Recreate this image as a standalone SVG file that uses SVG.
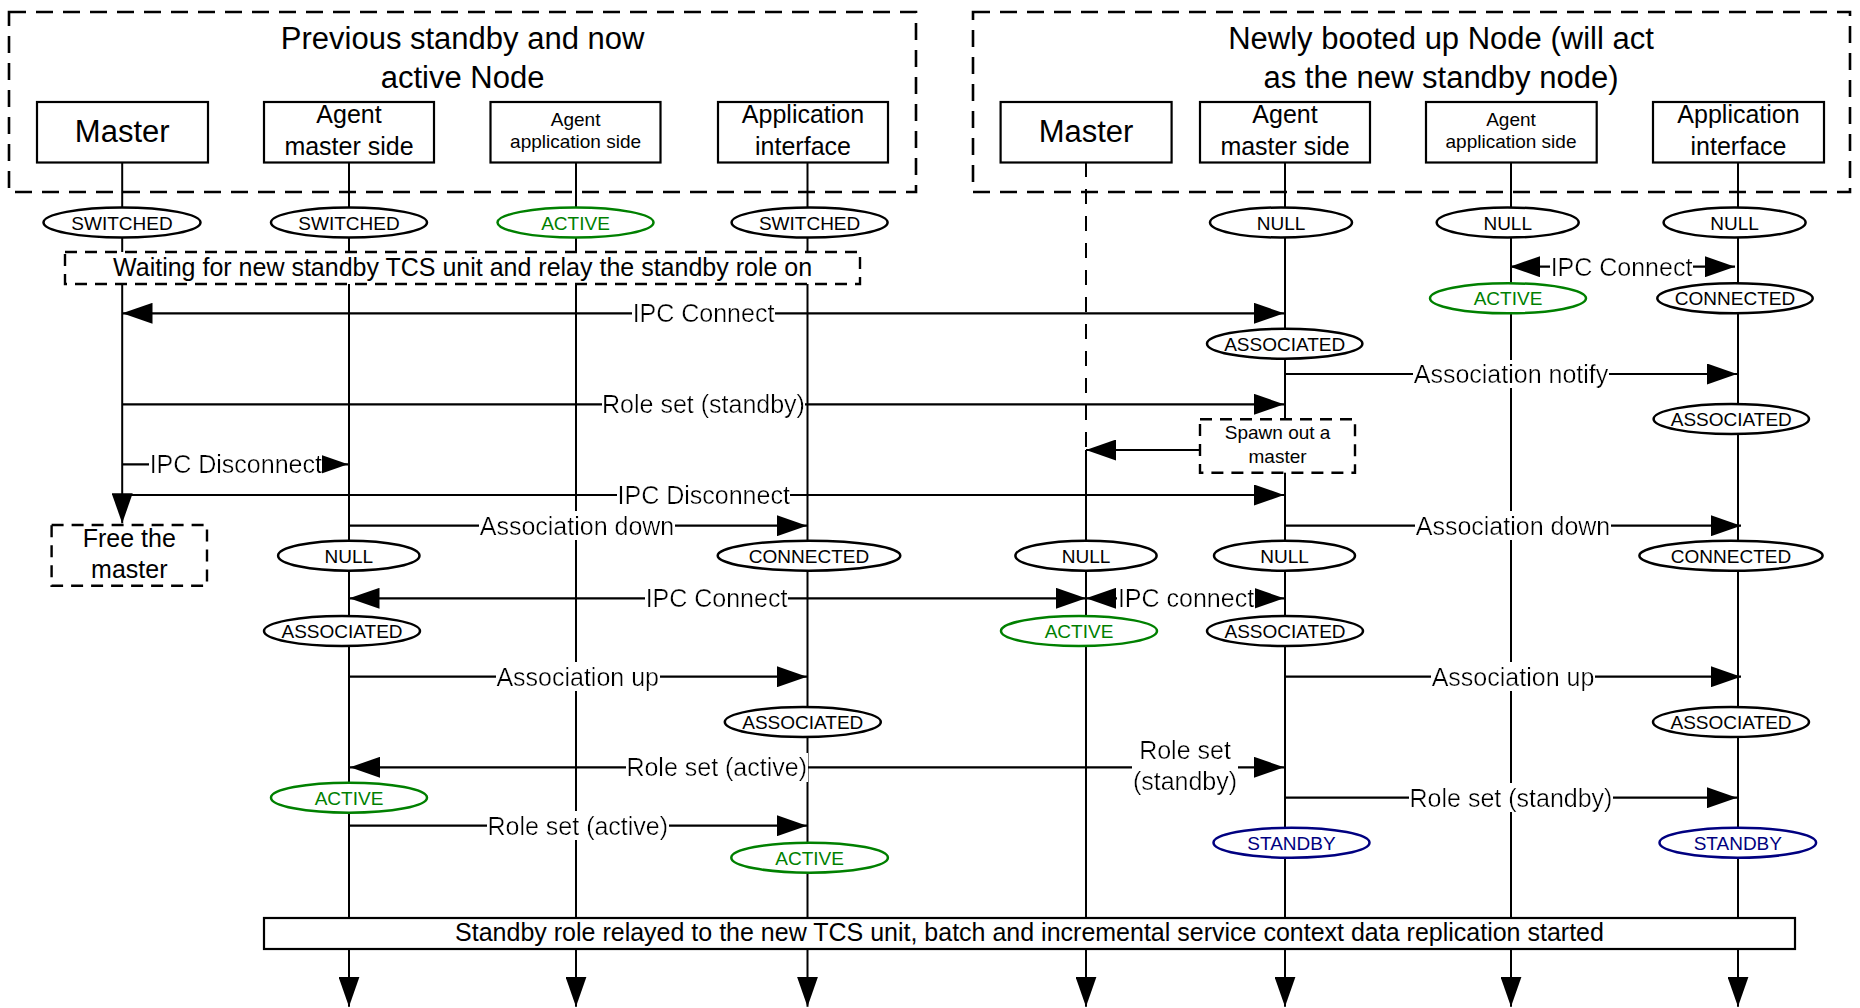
<svg xmlns="http://www.w3.org/2000/svg" width="1860" height="1008" viewBox="0 0 1860 1008">
  <style>
    text { font-family: "Liberation Sans", Arial, sans-serif; fill: #000; }
    .title { font-size: 31px; text-anchor: middle; }
    .hbox { fill: #fff; stroke: #000; stroke-width: 2.2; }
    .h31 { font-size: 31px; text-anchor: middle; }
    .h25 { font-size: 25px; text-anchor: middle; }
    .h19 { font-size: 19px; text-anchor: middle; }
    .group { fill: none; stroke: #000; stroke-width: 2.6; stroke-dasharray: 17 10; }
    .note { fill: #fff; stroke: #000; stroke-width: 2.4; stroke-dasharray: 12 8; }
    .life { stroke: #000; stroke-width: 2; fill: none; }
    .lifedash { stroke: #000; stroke-width: 2; fill: none; stroke-dasharray: 15 12; }
    .msg { stroke: #000; stroke-width: 2.2; fill: none; }
    .lbl { font-size: 25px; text-anchor: middle; }
    .st { fill: #fff; stroke: #000; stroke-width: 2.5; }
    .st.green { stroke: #008000; }
    .st.blue { stroke: #000080; }
    .stt { font-size: 19px; text-anchor: middle; }
    .stt.green { fill: #008000; }
    .stt.blue { fill: #000080; }
    .banner { fill: #fff; stroke: #000; stroke-width: 2.2; }
  </style>
  <defs>
    <marker id="arr" viewBox="0 0 30 21" refX="30" refY="10.5" markerWidth="30" markerHeight="21" markerUnits="userSpaceOnUse" orient="auto-start-reverse">
      <path d="M0,0 L30,10.5 L0,21 Z" fill="#000"/>
    </marker>
    <!-- white box behind message labels -->
    <filter id="bg" x="0" y="0" width="1" height="1">
      <feFlood flood-color="#fff"/>
      <feComposite in="SourceGraphic" operator="over"/>
    </filter>
  </defs>

  <rect width="1860" height="1008" fill="#fff"/>

  <!-- node groups (dashed frames) -->
  <g id="group-active-node">
    <rect class="group" x="9" y="12" width="907" height="180"/>
    <text class="title" x="462.6" y="49.3">Previous standby and now</text>
    <text class="title" x="462.6" y="88.3">active Node</text>
  </g>
  <g id="group-standby-node">
    <rect class="group" x="973" y="12" width="877" height="180"/>
    <text class="title" x="1441" y="49.3">Newly booted up Node (will act</text>
    <text class="title" x="1441" y="88.3">as the new standby node)</text>
  </g>

  <!-- participants with lifelines -->
  <g id="master-a">
    <line class="life" x1="122.2" y1="162" x2="122.2" y2="523.3" marker-end="url(#arr)"/>
    <rect class="hbox" x="37" y="102" width="171" height="60.5"/>
    <text class="h31" x="122.2" y="141.7">Master</text>
  </g>
  <g id="agent-master-a">
    <line class="life" x1="349" y1="162" x2="349" y2="1006.7" marker-end="url(#arr)"/>
    <rect class="hbox" x="264" y="102" width="170" height="60.5"/>
    <text class="h25" x="349" y="122.7">Agent</text>
    <text class="h25" x="349" y="155">master side</text>
  </g>
  <g id="agent-app-a">
    <line class="life" x1="576" y1="162" x2="576" y2="1006.7" marker-end="url(#arr)"/>
    <rect class="hbox" x="490.5" y="102" width="170" height="60.5"/>
    <text class="h19" x="575.6" y="126">Agent</text>
    <text class="h19" x="575.6" y="148.3">application side</text>
  </g>
  <g id="app-if-a">
    <line class="life" x1="807.5" y1="162" x2="807.5" y2="1006.7" marker-end="url(#arr)"/>
    <rect class="hbox" x="718" y="102" width="170" height="60.5"/>
    <text class="h25" x="803" y="122.7">Application</text>
    <text class="h25" x="803" y="155">interface</text>
  </g>
  <g id="master-b">
    <line class="lifedash" x1="1086" y1="162" x2="1086" y2="450"/>
    <line class="life" x1="1086" y1="450" x2="1086" y2="1006.7" marker-end="url(#arr)"/>
    <rect class="hbox" x="1000.6" y="102" width="171" height="60.5"/>
    <text class="h31" x="1086" y="141.7">Master</text>
  </g>
  <g id="agent-master-b">
    <line class="life" x1="1285" y1="162" x2="1285" y2="1006.7" marker-end="url(#arr)"/>
    <rect class="hbox" x="1200" y="102" width="170" height="60.5"/>
    <text class="h25" x="1285" y="122.7">Agent</text>
    <text class="h25" x="1285" y="155">master side</text>
  </g>
  <g id="agent-app-b">
    <line class="life" x1="1511" y1="162" x2="1511" y2="1006.7" marker-end="url(#arr)"/>
    <rect class="hbox" x="1426" y="102" width="170.7" height="60.5"/>
    <text class="h19" x="1511" y="126">Agent</text>
    <text class="h19" x="1511" y="148.3">application side</text>
  </g>
  <g id="app-if-b">
    <line class="life" x1="1738" y1="162" x2="1738" y2="1006.7" marker-end="url(#arr)"/>
    <rect class="hbox" x="1653" y="102" width="171" height="60.5"/>
    <text class="h25" x="1738.5" y="122.7">Application</text>
    <text class="h25" x="1738.5" y="155">interface</text>
  </g>

  <!-- messages -->
  <g id="connectors">
    <line class="msg" x1="1510" y1="266.7" x2="1735" y2="266.7" marker-start="url(#arr)" marker-end="url(#arr)"/>
    <text class="lbl" filter="url(#bg)" x="1621.5" y="275.7">IPC Connect</text>

    <line class="msg" x1="122.5" y1="313.3" x2="1284" y2="313.3" marker-start="url(#arr)" marker-end="url(#arr)"/>
    <text class="lbl" filter="url(#bg)" x="703.5" y="322.3">IPC Connect</text>

    <line class="msg" x1="1285" y1="374" x2="1737" y2="374" marker-end="url(#arr)"/>
    <text class="lbl" filter="url(#bg)" x="1511" y="383">Association notify</text>

    <line class="msg" x1="122.2" y1="404.3" x2="1284" y2="404.3" marker-end="url(#arr)"/>
    <text class="lbl" filter="url(#bg)" x="703.5" y="413.3">Role set (standby)</text>

    <line class="msg" x1="1200" y1="450" x2="1086" y2="450" marker-end="url(#arr)"/>

    <line class="msg" x1="122.2" y1="464.3" x2="348" y2="464.3" marker-end="url(#arr)"/>
    <text class="lbl" filter="url(#bg)" x="235.8" y="473.3">IPC Disconnect</text>

    <line class="msg" x1="122.2" y1="495" x2="1284" y2="495" marker-end="url(#arr)"/>
    <text class="lbl" filter="url(#bg)" x="703.7" y="504">IPC Disconnect</text>

    <line class="msg" x1="349" y1="525.7" x2="807" y2="525.7" marker-end="url(#arr)"/>
    <text class="lbl" filter="url(#bg)" x="577" y="534.7">Association down</text>

    <line class="msg" x1="1285" y1="525.7" x2="1741" y2="525.7" marker-end="url(#arr)"/>
    <text class="lbl" filter="url(#bg)" x="1513" y="534.7">Association down</text>

    <line class="msg" x1="349.5" y1="598.3" x2="1086" y2="598.3" marker-start="url(#arr)" marker-end="url(#arr)"/>
    <text class="lbl" filter="url(#bg)" x="716.5" y="607.3">IPC Connect</text>

    <line class="msg" x1="1086" y1="598.3" x2="1284" y2="598.3" marker-start="url(#arr)" marker-end="url(#arr)"/>
    <text class="lbl" filter="url(#bg)" x="1186" y="607.3">IPC connect</text>

    <line class="msg" x1="349" y1="676.7" x2="807" y2="676.7" marker-end="url(#arr)"/>
    <text class="lbl" filter="url(#bg)" x="577.7" y="685.7">Association up</text>

    <line class="msg" x1="1285" y1="676.7" x2="1741" y2="676.7" marker-end="url(#arr)"/>
    <text class="lbl" filter="url(#bg)" x="1513" y="685.7">Association up</text>

    <line class="msg" x1="1086" y1="767.3" x2="350" y2="767.3" marker-end="url(#arr)"/>
    <text class="lbl" filter="url(#bg)" x="716.7" y="776.3">Role set (active)</text>

    <line class="msg" x1="1086" y1="767.3" x2="1284" y2="767.3" marker-end="url(#arr)"/>
    <text class="lbl" filter="url(#bg)" x="1185" y="759.3">Role set<tspan x="1185" y="790">(standby)</tspan></text>

    <line class="msg" x1="1285" y1="797.7" x2="1737" y2="797.7" marker-end="url(#arr)"/>
    <text class="lbl" filter="url(#bg)" x="1511" y="806.7">Role set (standby)</text>

    <line class="msg" x1="349" y1="825.7" x2="807" y2="825.7" marker-end="url(#arr)"/>
    <text class="lbl" filter="url(#bg)" x="577.8" y="834.7">Role set (active)</text>
  </g>

  <!-- notes -->
  <g id="note-waiting">
    <rect class="note" x="65" y="252" width="795" height="32"/>
    <text class="lbl" x="462.6" y="276">Waiting for new standby TCS unit and relay the standby role on</text>
  </g>
  <g id="note-spawn">
    <rect class="note" x="1200" y="419.3" width="155" height="53.4"/>
    <text class="h19" x="1277.6" y="439.3">Spawn out a</text>
    <text class="h19" x="1277.6" y="463.3">master</text>
  </g>
  <g id="note-free">
    <rect class="note" x="51.6" y="525" width="155.4" height="60.7"/>
    <text class="lbl" x="129.3" y="546.7">Free the</text>
    <text class="lbl" x="129.3" y="577.7">master</text>
  </g>
  <g id="note-relayed">
    <rect class="banner" x="264" y="918" width="1531" height="31"/>
    <text class="lbl" x="1029.5" y="940.7">Standby role relayed to the new TCS unit, batch and incremental service context data replication started</text>
  </g>

  <!-- state markers -->
  <g id="st-a-master-switched"><ellipse class="st" cx="122" cy="222.5" rx="78.5" ry="15"/><text class="stt" x="122" y="229.5">SWITCHED</text></g>
  <g id="st-a-agentm-switched"><ellipse class="st" cx="349" cy="222.5" rx="78" ry="15"/><text class="stt" x="349" y="229.5">SWITCHED</text></g>
  <g id="st-a-agenta-active"><ellipse class="st green" cx="575.5" cy="222.5" rx="78" ry="15"/><text class="stt green" x="575.5" y="229.5">ACTIVE</text></g>
  <g id="st-a-app-switched"><ellipse class="st" cx="809.6" cy="222.5" rx="78" ry="15"/><text class="stt" x="809.6" y="229.5">SWITCHED</text></g>
  <g id="st-b-agentm-null"><ellipse class="st" cx="1281" cy="222.5" rx="71" ry="15"/><text class="stt" x="1281" y="229.5">NULL</text></g>
  <g id="st-b-agenta-null"><ellipse class="st" cx="1507.7" cy="222.5" rx="71" ry="15"/><text class="stt" x="1507.7" y="229.5">NULL</text></g>
  <g id="st-b-app-null"><ellipse class="st" cx="1734.6" cy="222.5" rx="71" ry="15"/><text class="stt" x="1734.6" y="229.5">NULL</text></g>

  <g id="st-b-agenta-active"><ellipse class="st green" cx="1508" cy="298.3" rx="78" ry="15"/><text class="stt green" x="1508" y="305.3">ACTIVE</text></g>
  <g id="st-b-app-connected"><ellipse class="st" cx="1735" cy="298.3" rx="77.7" ry="15"/><text class="stt" x="1735" y="305.3">CONNECTED</text></g>

  <g id="st-b-agentm-associated"><ellipse class="st" cx="1284.7" cy="343.7" rx="77.7" ry="15"/><text class="stt" x="1284.7" y="350.7">ASSOCIATED</text></g>
  <g id="st-b-app-associated-1"><ellipse class="st" cx="1731.3" cy="419" rx="77.7" ry="15"/><text class="stt" x="1731.3" y="426">ASSOCIATED</text></g>

  <g id="st-a-agentm-null"><ellipse class="st" cx="348.8" cy="555.7" rx="70.7" ry="15"/><text class="stt" x="348.8" y="562.7">NULL</text></g>
  <g id="st-a-app-connected"><ellipse class="st" cx="809" cy="555.7" rx="91.3" ry="15"/><text class="stt" x="809" y="562.7">CONNECTED</text></g>
  <g id="st-b-master-null"><ellipse class="st" cx="1086" cy="555.7" rx="70.6" ry="15"/><text class="stt" x="1086" y="562.7">NULL</text></g>
  <g id="st-b-agentm-null-2"><ellipse class="st" cx="1284.5" cy="555.7" rx="70.5" ry="15"/><text class="stt" x="1284.5" y="562.7">NULL</text></g>
  <g id="st-b-app-connected-2"><ellipse class="st" cx="1731" cy="555.7" rx="91.6" ry="15"/><text class="stt" x="1731" y="562.7">CONNECTED</text></g>

  <g id="st-a-agentm-associated"><ellipse class="st" cx="342" cy="631" rx="78" ry="15"/><text class="stt" x="342" y="638">ASSOCIATED</text></g>
  <g id="st-b-master-active"><ellipse class="st green" cx="1079" cy="631" rx="78" ry="15"/><text class="stt green" x="1079" y="638">ACTIVE</text></g>
  <g id="st-b-agentm-associated-2"><ellipse class="st" cx="1285" cy="631" rx="78" ry="15"/><text class="stt" x="1285" y="638">ASSOCIATED</text></g>

  <g id="st-a-app-associated"><ellipse class="st" cx="802.8" cy="722" rx="78" ry="15"/><text class="stt" x="802.8" y="729">ASSOCIATED</text></g>
  <g id="st-b-app-associated-2"><ellipse class="st" cx="1731" cy="722" rx="78" ry="15"/><text class="stt" x="1731" y="729">ASSOCIATED</text></g>

  <g id="st-a-agentm-active"><ellipse class="st green" cx="349" cy="797.7" rx="78" ry="15"/><text class="stt green" x="349" y="804.7">ACTIVE</text></g>

  <g id="st-b-agentm-standby"><ellipse class="st blue" cx="1291.5" cy="842.7" rx="78" ry="15"/><text class="stt blue" x="1291.5" y="849.7">STANDBY</text></g>
  <g id="st-b-app-standby"><ellipse class="st blue" cx="1737.8" cy="842.7" rx="78.3" ry="15"/><text class="stt blue" x="1737.8" y="849.7">STANDBY</text></g>
  <g id="st-a-app-active"><ellipse class="st green" cx="809.6" cy="857.7" rx="78.3" ry="15"/><text class="stt green" x="809.6" y="864.7">ACTIVE</text></g>
</svg>
